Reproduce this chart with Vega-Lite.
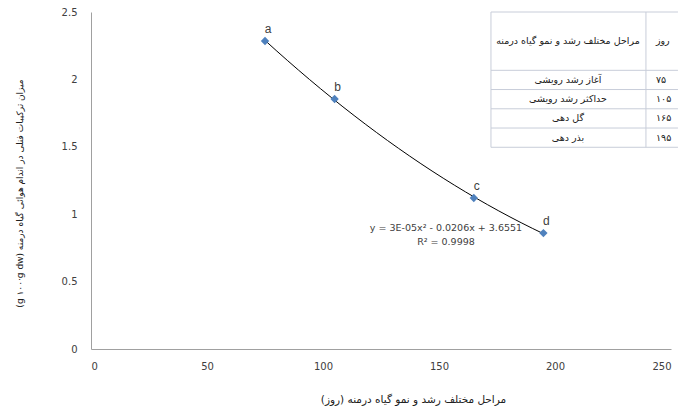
{
  "$schema": "https://vega.github.io/schema/vega-lite/v6.json",
  "width": 580,
  "height": 337,
  "autosize": {"type": "none"},
  "padding": {"left": 91, "top": 12, "right": 7, "bottom": 61},
  "background": "white",
  "config": {
    "view": {"stroke": null},
    "font": "DejaVu Sans",
    "axis": {
      "grid": false,
      "ticks": false,
      "domainColor": "#a0a0a0",
      "domainWidth": 1,
      "labelFont": "DejaVu Sans",
      "labelFontSize": 10,
      "labelColor": "#404040",
      "titleFont": "DejaVu Sans",
      "titleFontWeight": "normal",
      "titleColor": "#202020"
    }
  },
  "datasets": {
    "points": [
      {"day": 75, "value": 2.285, "label": "a"},
      {"day": 105, "value": 1.855, "label": "b"},
      {"day": 165, "value": 1.12, "label": "c"},
      {"day": 195, "value": 0.86, "label": "d"}
    ],
    "equation": [
      {"eq": "y = 3E-05x² - 0.0206x + 3.6551", "r2": "R² = 0.9998"}
    ],
    "header": [
      {"stage": "مراحل مختلف رشد و نمو گیاه درمنه", "day": "روز"}
    ],
    "table": [
      {"rank": 1, "stage": "آغاز رشد رویشی", "day": "۷۵"},
      {"rank": 2, "stage": "حداکثر رشد رویشی", "day": "۱۰۵"},
      {"rank": 3, "stage": "گل دهی", "day": "۱۶۵"},
      {"rank": 4, "stage": "بذر دهی", "day": "۱۹۵"}
    ]
  },
  "resolve": {"scale": {"x": "independent", "y": "independent"}},
  "layer": [
    {
      "layer": [
        {
          "data": {"name": "points"},
          "transform": [
            {"regression": "value", "on": "day", "method": "poly", "order": 2, "extent": [75, 195]}
          ],
          "mark": {"type": "line", "color": "#000000", "strokeWidth": 1},
          "encoding": {
            "x": {
              "field": "day", "type": "quantitative",
              "scale": {"domain": [0, 250], "nice": false},
              "axis": {
                "values": [0, 50, 100, 150, 200, 250],
                "format": "d",
                "labelPadding": 12,
                "title": "مراحل مختلف رشد و نمو گیاه درمنه (روز)",
                "titleFontSize": 10.5,
                "titleX": 322,
                "titleY": 50,
                "titleBaseline": "middle",
                "titleAlign": "center"
              }
            },
            "y": {
              "field": "value", "type": "quantitative",
              "scale": {"domain": [0, 2.5], "nice": false},
              "axis": {
                "values": [0, 0.5, 1, 1.5, 2, 2.5],
                "format": "~g",
                "labelPadding": 14,
                "title": "(g ۱۰۰·g dw) میزان ترکیبات فنلی در اندام هوائی گیاه درمنه",
                "titleFontSize": 9,
                "titleX": -72,
                "titleY": 181,
                "titleBaseline": "middle",
                "titleAlign": "center",
                "titleAngle": -90
              }
            }
          }
        },
        {
          "data": {"name": "points"},
          "mark": {"type": "point", "shape": "diamond", "filled": true, "opacity": 1, "color": "#4f81bd", "size": 70},
          "encoding": {
            "x": {"field": "day", "type": "quantitative", "scale": {"domain": [0, 250], "nice": false}},
            "y": {"field": "value", "type": "quantitative", "scale": {"domain": [0, 2.5], "nice": false}}
          }
        },
        {
          "data": {"name": "points"},
          "mark": {"type": "text", "font": "Liberation Sans", "fontSize": 12, "color": "#404040", "dx": 3, "dy": -12, "baseline": "middle", "align": "center"},
          "encoding": {
            "x": {"field": "day", "type": "quantitative", "scale": {"domain": [0, 250], "nice": false}},
            "y": {"field": "value", "type": "quantitative", "scale": {"domain": [0, 2.5], "nice": false}},
            "text": {"field": "label"}
          }
        },
        {
          "data": {"name": "equation"},
          "mark": {"type": "text", "font": "DejaVu Sans", "fontSize": 9.5, "color": "#404040", "baseline": "middle", "align": "center"},
          "encoding": {
            "x": {"datum": 153, "type": "quantitative", "scale": {"domain": [0, 250], "nice": false}},
            "y": {"datum": 0.898, "type": "quantitative", "scale": {"domain": [0, 2.5], "nice": false}},
            "text": {"field": "eq"}
          }
        },
        {
          "data": {"name": "equation"},
          "mark": {"type": "text", "font": "DejaVu Sans", "fontSize": 9.5, "color": "#404040", "baseline": "middle", "align": "center"},
          "encoding": {
            "x": {"datum": 153, "type": "quantitative", "scale": {"domain": [0, 250], "nice": false}},
            "y": {"datum": 0.794, "type": "quantitative", "scale": {"domain": [0, 2.5], "nice": false}},
            "text": {"field": "r2"}
          }
        }
      ]
    },
    {
      "layer": [
        {
          "data": {"name": "table"},
          "mark": {"type": "rule", "color": "#c8cdd9", "strokeWidth": 1, "yOffset": 9.6},
          "encoding": {
            "x": {"datum": 172.4, "type": "quantitative", "scale": {"domain": [0, 250], "nice": false, "zero": false}, "axis": null},
            "x2": {"datum": 253},
            "y": {"field": "rank", "type": "quantitative", "scale": {"domain": [-2.53, 14.98], "reverse": true, "nice": false, "zero": false}, "axis": null}
          }
        },
        {
          "data": {"name": "header"},
          "mark": {"type": "rule", "color": "#c8cdd9", "strokeWidth": 1},
          "encoding": {
            "x": {"datum": 172.4, "type": "quantitative", "scale": {"domain": [0, 250], "nice": false, "zero": false}, "axis": null},
            "x2": {"datum": 253},
            "y": {"datum": -2.53, "type": "quantitative", "scale": {"domain": [-2.53, 14.98], "reverse": true, "nice": false, "zero": false}, "axis": null}
          }
        },
        {
          "data": {"name": "header"},
          "mark": {"type": "rule", "color": "#c8cdd9", "strokeWidth": 1},
          "encoding": {
            "x": {"datum": 172.4, "type": "quantitative", "scale": {"domain": [0, 250], "nice": false, "zero": false}, "axis": null},
            "x2": {"datum": 253},
            "y": {"datum": 0.5, "type": "quantitative", "scale": {"domain": [-2.53, 14.98], "reverse": true, "nice": false, "zero": false}, "axis": null}
          }
        },
        {
          "data": {"name": "header"},
          "mark": {"type": "rule", "color": "#c8cdd9", "strokeWidth": 1},
          "encoding": {
            "x": {"datum": 172.4, "type": "quantitative", "scale": {"domain": [0, 250], "nice": false, "zero": false}, "axis": null},
            "y": {"datum": -2.53, "type": "quantitative", "scale": {"domain": [-2.53, 14.98], "reverse": true, "nice": false, "zero": false}, "axis": null},
            "y2": {"datum": 4.5}
          }
        },
        {
          "data": {"name": "header"},
          "mark": {"type": "rule", "color": "#c8cdd9", "strokeWidth": 1},
          "encoding": {
            "x": {"datum": 239.2, "type": "quantitative", "scale": {"domain": [0, 250], "nice": false, "zero": false}, "axis": null},
            "y": {"datum": -2.53, "type": "quantitative", "scale": {"domain": [-2.53, 14.98], "reverse": true, "nice": false, "zero": false}, "axis": null},
            "y2": {"datum": 4.5}
          }
        },
        {
          "data": {"name": "header"},
          "mark": {"type": "text", "font": "DejaVu Sans", "fontSize": 9.5, "color": "#202020", "align": "center", "baseline": "middle"},
          "encoding": {
            "x": {"datum": 205.6, "type": "quantitative", "scale": {"domain": [0, 250], "nice": false, "zero": false}, "axis": null},
            "y": {"datum": -1, "type": "quantitative", "scale": {"domain": [-2.53, 14.98], "reverse": true, "nice": false, "zero": false}, "axis": null},
            "text": {"field": "stage"}
          }
        },
        {
          "data": {"name": "header"},
          "mark": {"type": "text", "font": "DejaVu Sans", "fontSize": 9.5, "color": "#202020", "align": "left", "baseline": "middle"},
          "encoding": {
            "x": {"datum": 243.5, "type": "quantitative", "scale": {"domain": [0, 250], "nice": false, "zero": false}, "axis": null},
            "y": {"datum": -1, "type": "quantitative", "scale": {"domain": [-2.53, 14.98], "reverse": true, "nice": false, "zero": false}, "axis": null},
            "text": {"field": "day"}
          }
        },
        {
          "data": {"name": "table"},
          "mark": {"type": "text", "font": "DejaVu Sans", "fontSize": 9.5, "color": "#202020", "align": "center", "baseline": "middle"},
          "encoding": {
            "x": {"datum": 205.6, "type": "quantitative", "scale": {"domain": [0, 250], "nice": false, "zero": false}, "axis": null},
            "y": {"field": "rank", "type": "quantitative", "scale": {"domain": [-2.53, 14.98], "reverse": true, "nice": false, "zero": false}, "axis": null},
            "text": {"field": "stage"}
          }
        },
        {
          "data": {"name": "table"},
          "mark": {"type": "text", "font": "DejaVu Sans", "fontSize": 9.5, "color": "#202020", "align": "left", "baseline": "middle"},
          "encoding": {
            "x": {"datum": 243.5, "type": "quantitative", "scale": {"domain": [0, 250], "nice": false, "zero": false}, "axis": null},
            "y": {"field": "rank", "type": "quantitative", "scale": {"domain": [-2.53, 14.98], "reverse": true, "nice": false, "zero": false}, "axis": null},
            "text": {"field": "day"}
          }
        }
      ]
    }
  ]
}
